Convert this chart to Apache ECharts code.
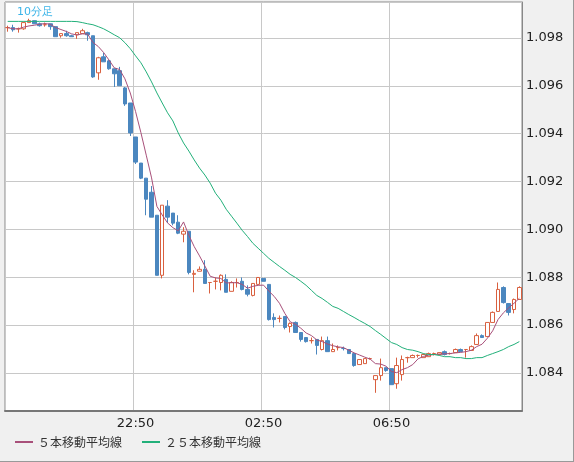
<!DOCTYPE html>
<html><head><meta charset="utf-8">
<script src="https://cdn.jsdelivr.net/npm/echarts@6/dist/echarts.min.js"></script>
<style>html,body{margin:0;padding:0;background:#f0f0f0}#c{width:574px;height:462px;box-sizing:border-box;border-right:1px solid #999;border-bottom:1px solid #999}</style>
</head><body><div id="c"></div>
<script>
// 10-minute bars starting 18:50
const startHour = 18, startMin = 50, barCount = 97;
const opens = [1.09843,1.09843,1.09838,1.09838,1.09864,1.09872,1.09859,1.09855,1.09859,1.09847,1.09809,1.09818,1.09809,1.09813,1.09818,1.09822,1.09809,1.09654,1.09721,1.09704,1.09671,1.09663,1.09591,1.09528,1.09386,1.09277,1.09214,1.09155,1.09059,1.08808,1.09097,1.09068,1.09030,1.08980,1.08992,1.08812,1.08825,1.08833,1.08778,1.08783,1.08778,1.08791,1.08741,1.08778,1.08783,1.08749,1.08724,1.08770,1.08795,1.08770,1.08632,1.08628,1.08636,1.08594,1.08611,1.08569,1.08548,1.08535,1.08540,1.08498,1.08535,1.08489,1.08506,1.08502,1.08498,1.08481,1.08435,1.08439,1.08460,1.08372,1.08389,1.08422,1.08418,1.08355,1.08393,1.08464,1.08464,1.08473,1.08464,1.08468,1.08481,1.08477,1.08489,1.08481,1.08485,1.08498,1.08498,1.08494,1.08519,1.08556,1.08552,1.08611,1.08657,1.08757,1.08690,1.08665,1.08707];
const closes = [1.09843,1.09834,1.09838,1.09864,1.09872,1.09859,1.09851,1.09855,1.09847,1.09805,1.09818,1.09809,1.09805,1.09822,1.09830,1.09813,1.09637,1.09717,1.09700,1.09671,1.09650,1.09600,1.09524,1.09403,1.09281,1.09214,1.09126,1.09051,1.08808,1.09101,1.09051,1.09026,1.08984,1.08992,1.08820,1.08816,1.08833,1.08774,1.08778,1.08783,1.08808,1.08737,1.08778,1.08778,1.08749,1.08729,1.08774,1.08799,1.08783,1.08623,1.08623,1.08628,1.08590,1.08607,1.08569,1.08540,1.08531,1.08535,1.08515,1.08535,1.08489,1.08498,1.08506,1.08502,1.08481,1.08431,1.08456,1.08460,1.08460,1.08389,1.08422,1.08410,1.08351,1.08431,1.08456,1.08464,1.08473,1.08473,1.08477,1.08481,1.08481,1.08485,1.08477,1.08481,1.08498,1.08489,1.08498,1.08510,1.08556,1.08548,1.08611,1.08653,1.08749,1.08694,1.08653,1.08707,1.08757];
const highs = [1.09851,1.09855,1.09843,1.09868,1.09880,1.09872,1.09864,1.09864,1.09859,1.09847,1.09818,1.09830,1.09813,1.09822,1.09838,1.09826,1.09809,1.09721,1.09738,1.09709,1.09671,1.09679,1.09595,1.09528,1.09386,1.09277,1.09214,1.09181,1.09059,1.09101,1.09122,1.09068,1.09059,1.09009,1.08992,1.08829,1.08845,1.08871,1.08778,1.08799,1.08812,1.08812,1.08783,1.08795,1.08799,1.08766,1.08774,1.08799,1.08795,1.08770,1.08649,1.08640,1.08636,1.08611,1.08615,1.08569,1.08548,1.08548,1.08540,1.08552,1.08552,1.08523,1.08515,1.08510,1.08498,1.08481,1.08456,1.08460,1.08464,1.08389,1.08460,1.08422,1.08418,1.08464,1.08473,1.08468,1.08477,1.08477,1.08481,1.08485,1.08485,1.08485,1.08494,1.08485,1.08502,1.08502,1.08498,1.08515,1.08565,1.08561,1.08611,1.08657,1.08778,1.08762,1.08690,1.08711,1.08762];
const lows = [1.09826,1.09826,1.09822,1.09834,1.09864,1.09859,1.09847,1.09847,1.09834,1.09805,1.09801,1.09805,1.09805,1.09796,1.09818,1.09788,1.09633,1.09625,1.09700,1.09667,1.09595,1.09600,1.09516,1.09390,1.09273,1.09210,1.09059,1.09051,1.08808,1.08795,1.09026,1.09017,1.08980,1.08946,1.08812,1.08737,1.08825,1.08774,1.08732,1.08749,1.08745,1.08737,1.08741,1.08757,1.08745,1.08720,1.08720,1.08770,1.08783,1.08619,1.08590,1.08611,1.08582,1.08569,1.08569,1.08531,1.08527,1.08523,1.08477,1.08494,1.08489,1.08489,1.08494,1.08494,1.08481,1.08426,1.08435,1.08439,1.08456,1.08317,1.08368,1.08405,1.08351,1.08334,1.08368,1.08443,1.08464,1.08464,1.08464,1.08468,1.08473,1.08473,1.08473,1.08477,1.08485,1.08489,1.08464,1.08494,1.08519,1.08548,1.08552,1.08611,1.08657,1.08690,1.08640,1.08649,1.08707];
const ma25 = [1.09869,1.09869,1.09869,1.09869,1.09869,1.09869,1.09869,1.09869,1.09869,1.09869,1.09869,1.09869,1.09869,1.09868,1.09864,1.09859,1.09855,1.09847,1.09838,1.09826,1.09813,1.09801,1.09780,1.09755,1.09725,1.09696,1.09658,1.09616,1.09570,1.09528,1.09487,1.09453,1.09403,1.09361,1.09327,1.09290,1.09256,1.09227,1.09193,1.09151,1.09122,1.09084,1.09055,1.09026,1.08996,1.08970,1.08942,1.08921,1.08900,1.08879,1.08862,1.08845,1.08829,1.08812,1.08799,1.08783,1.08766,1.08745,1.08724,1.08711,1.08695,1.08678,1.08670,1.08657,1.08644,1.08632,1.08619,1.08607,1.08594,1.08577,1.08561,1.08544,1.08527,1.08519,1.08506,1.08498,1.08495,1.08489,1.08481,1.08477,1.08477,1.08473,1.08468,1.08468,1.08464,1.08464,1.08460,1.08460,1.08464,1.08464,1.08473,1.08481,1.08489,1.08498,1.08510,1.08519,1.08531];
const legendNames = ['５本移動平均線','２５本移動平均線'];
const frameLabel = '10分足';

const cats = [];
for (let i = 0; i < barCount; i++) {
  const t = startHour * 60 + startMin + i * 10;
  const h = Math.floor(t / 60) % 24, m = t % 60;
  cats.push(String(h).padStart(2,'0') + ':' + String(m).padStart(2,'0'));
}
const ohlc = opens.map((o, i) => [o, closes[i], lows[i], highs[i]]);
const ma5 = closes.map((c, i) => {
  const s = closes.slice(Math.max(0, i - 4), i + 1);
  return +(s.reduce((a, b) => a + b, 0) / s.length).toFixed(5);
});

const chart = echarts.init(document.getElementById('c'));
chart.setOption({
  animation: false,
  backgroundColor: '#f0f0f0',
  title: { text: frameLabel, left: 12, top: 2, textStyle: { color: '#3bb4e8', fontSize: 11, fontWeight: 'normal', fontFamily: 'DejaVu Sans' } },
  legend: {
    data: legendNames, left: 10, bottom: 8, itemWidth: 18, itemHeight: 2, itemGap: 20,
    icon: 'rect',
    textStyle: { color: '#333', fontSize: 12, fontFamily: 'Noto Sans CJK JP' }
  },
  grid: { left: 5, right: 51, top: 2, bottom: 50, show: true, backgroundColor: '#fff', borderColor: '#888', borderWidth: 1 },
  xAxis: {
    type: 'category', data: cats, boundaryGap: true,
    axisLine: { lineStyle: { color: '#777', width: 2 } },
    axisTick: { show: false },
    axisLabel: { interval: (i) => i % 24 === 0 && i > 0 && i < barCount - 1, color: '#222', fontSize: 13, fontFamily: 'DejaVu Sans', margin: 6 },
    splitLine: { show: true, interval: (i) => i % 24 === 0 && i < barCount - 1, lineStyle: { color: '#c8c8c8' } }
  },
  yAxis: {
    type: 'value', position: 'right', min: 1.08241, max: 1.0995, splitNumber: 8, scale: true,
    axisLine: { show: true, lineStyle: { color: '#888' } },
    axisTick: { show: false },
    axisLabel: { color: '#222', fontSize: 13, fontFamily: 'DejaVu Sans', margin: 4, showMinLabel: false, showMaxLabel: false, formatter: v => v.toFixed(3) },
    splitLine: { show: true, lineStyle: { color: '#c8c8c8' } }
  },
  series: [
    { type: 'candlestick', data: ohlc, barWidth: 4,
      itemStyle: { color: '#ffffff', color0: '#4b87bf', borderColor: '#d9603f', borderColor0: '#4b87bf', borderWidth: 1 } },
    { name: legendNames[0], type: 'line', data: ma5, symbol: 'none', lineStyle: { color: '#a8507a', width: 1 }, itemStyle: { color: '#a8507a' } },
    { name: legendNames[1], type: 'line', data: ma25, symbol: 'none', lineStyle: { color: '#22b07a', width: 1 }, itemStyle: { color: '#22b07a' } }
  ]
});
</script></body></html>
